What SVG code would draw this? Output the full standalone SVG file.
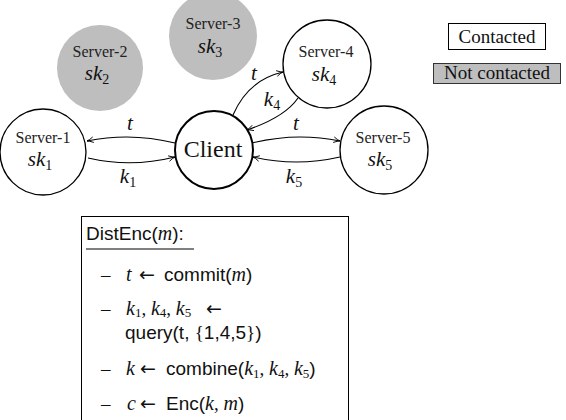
<svg xmlns="http://www.w3.org/2000/svg" width="566" height="420" viewBox="0 0 566 420">
  <style>
    .srv { fill: #fff; stroke: #000; stroke-width: 1.3; }
    .off { fill: #bebebe; stroke: none; }
    .cli { fill: #fff; stroke: #000; stroke-width: 2; }
    .serif { font-family: "Liberation Serif", "Times New Roman", "DejaVu Serif", serif; }
    .name { font-size: 16px; text-anchor: middle; fill: #222; }
    .key { font-style: italic; font-size: 21px; text-anchor: middle; fill: #111; }
    .sub { font-size: 14px; font-style: normal; }
    .big { font-size: 24px; text-anchor: middle; fill: #111; }
    .lbl { font-style: italic; font-size: 21px; text-anchor: middle; fill: #111; }
    .leg { font-size: 19px; text-anchor: middle; fill: #111; }
    .edge { fill: none; stroke: #000; stroke-width: 1.1; marker-end: url(#arr); }
    .algo { font-family: "Liberation Sans", "DejaVu Sans", sans-serif; font-size: 19px; fill: #111; }
    .m { font-family: "Liberation Serif", "Times New Roman", "DejaVu Serif", serif; font-style: italic; font-size: 20px; }
    .r { font-family: "Liberation Serif", "Times New Roman", "DejaVu Serif", serif; font-style: normal; }
    .s { font-family: "Liberation Serif", "Times New Roman", "DejaVu Serif", serif; font-style: normal; font-size: 13px; }
    .ar { font-family: "DejaVu Sans", sans-serif; font-size: 19px; }
  </style>
  <defs>
    <marker id="arr" viewBox="0 0 10 10" refX="9" refY="5" markerWidth="8" markerHeight="8" markerUnits="userSpaceOnUse" orient="auto">
      <path d="M1,1.5 Q6,4.5 9,5 Q6,5.5 1,8.5" fill="none" stroke="#000" stroke-width="1.1"/>
    </marker>
  </defs>

  <!-- servers that were not contacted -->
  <g id="server-2">
    <circle class="off" cx="100" cy="68" r="43"/>
    <text class="serif name" x="100" y="57">Server-2</text>
    <text class="serif key" x="97" y="80">sk<tspan class="sub" dy="4">2</tspan></text>
  </g>
  <g id="server-3">
    <circle class="off" cx="213" cy="36" r="44"/>
    <text class="serif name" x="213" y="29">Server-3</text>
    <text class="serif key" x="210" y="53">sk<tspan class="sub" dy="4">3</tspan></text>
  </g>

  <!-- contacted servers -->
  <g id="server-1">
    <circle class="srv" cx="43" cy="152" r="43"/>
    <text class="serif name" x="43" y="143">Server-1</text>
    <text class="serif key" x="40" y="166">sk<tspan class="sub" dy="4">1</tspan></text>
  </g>
  <g id="server-4">
    <circle class="srv" cx="327" cy="64" r="44"/>
    <text class="serif name" x="326" y="57">Server-4</text>
    <text class="serif key" x="324" y="81">sk<tspan class="sub" dy="4">4</tspan></text>
  </g>
  <g id="server-5">
    <circle class="srv" cx="384" cy="150" r="44"/>
    <text class="serif name" x="383" y="143">Server-5</text>
    <text class="serif key" x="380" y="166">sk<tspan class="sub" dy="4">5</tspan></text>
  </g>

  <g id="client">
    <circle class="cli" cx="214" cy="150" r="39"/>
    <text class="serif big" x="213" y="157">Client</text>
  </g>

  <!-- messages between the client and the servers -->
  <g id="connectors">
    <path class="edge" d="M175,143 Q131,132 87,141"/>
    <path class="edge" d="M88,158 Q131,168 175,157"/>
    <path class="edge" d="M233,115 Q248,80 283,72"/>
    <path class="edge" d="M298,98 Q285,117 247,130"/>
    <path class="edge" d="M252,143 Q296,132 340,141"/>
    <path class="edge" d="M340,157 Q296,167 253,157"/>
    <text class="serif lbl" x="130" y="130">t</text>
    <text class="serif lbl" x="128" y="183">k<tspan class="sub" dy="4">1</tspan></text>
    <text class="serif lbl" x="254" y="80">t</text>
    <text class="serif lbl" x="272" y="106">k<tspan class="sub" dy="4">4</tspan></text>
    <text class="serif lbl" x="296" y="130">t</text>
    <text class="serif lbl" x="294" y="183">k<tspan class="sub" dy="4">5</tspan></text>
  </g>

  <!-- legend -->
  <g id="legend-contacted">
    <rect x="448.5" y="23.5" width="97" height="26" fill="#fff" stroke="#000" stroke-width="1"/>
    <text class="serif leg" x="497" y="43">Contacted</text>
  </g>
  <g id="legend-not-contacted">
    <rect x="433.5" y="63.5" width="127" height="20" fill="#bebebe" stroke="#333" stroke-width="1"/>
    <text class="serif leg" x="497" y="79">Not contacted</text>
  </g>

  <!-- algorithm box -->
  <g id="distenc">
    <rect x="81.5" y="216.5" width="267" height="210" fill="#fff" stroke="#000" stroke-width="1"/>
    <text class="algo" x="86" y="240">DistEnc(<tspan class="m">m</tspan>):</text>
    <line x1="86" y1="249" x2="194" y2="249" stroke="#000" stroke-width="1"/>

    <text class="algo" y="281"><tspan class="r" x="101">–</tspan><tspan class="m" x="126">t</tspan><tspan class="ar" x="139">←</tspan><tspan x="164">commit(</tspan><tspan class="m">m</tspan>)</text>

    <text class="algo" y="315"><tspan class="r" x="101">–</tspan><tspan class="m" x="126">k</tspan><tspan class="s" dy="2">1</tspan><tspan class="r" dy="-2">, </tspan><tspan class="m">k</tspan><tspan class="s" dy="2">4</tspan><tspan class="r" dy="-2">, </tspan><tspan class="m">k</tspan><tspan class="s" dy="2">5</tspan><tspan class="ar" x="206" dy="-2">←</tspan></text>
    <text class="algo" x="125" y="339">query(t, <tspan class="r">{</tspan>1,4,5<tspan class="r">}</tspan>)</text>

    <text class="algo" y="375"><tspan class="r" x="101">–</tspan><tspan class="m" x="126">k</tspan><tspan class="ar" x="140">←</tspan><tspan x="166">combine(</tspan><tspan class="m">k</tspan><tspan class="s" dy="3">1</tspan><tspan class="r" dy="-3">, </tspan><tspan class="m">k</tspan><tspan class="s" dy="3">4</tspan><tspan class="r" dy="-3">, </tspan><tspan class="m">k</tspan><tspan class="s" dy="3">5</tspan><tspan dy="-3">)</tspan></text>

    <text class="algo" y="410"><tspan class="r" x="101">–</tspan><tspan class="m" x="127">c</tspan><tspan class="ar" x="140">←</tspan><tspan x="166">Enc(</tspan><tspan class="m">k</tspan><tspan class="r">, </tspan><tspan class="m">m</tspan>)</text>
  </g>
</svg>
